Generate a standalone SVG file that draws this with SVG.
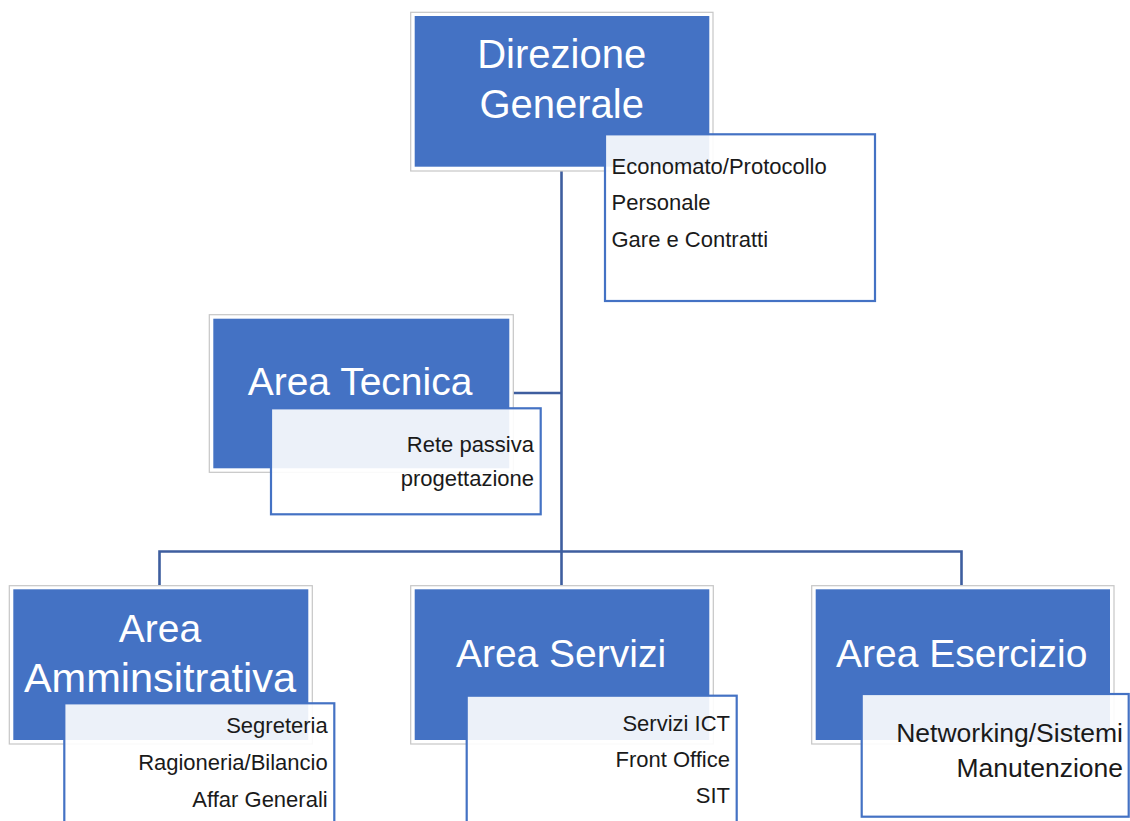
<svg xmlns="http://www.w3.org/2000/svg" width="1130" height="821" viewBox="0 0 1130 821">
<style>
.frame{fill:#ffffff;stroke:#c6c6c6;stroke-width:1.2}
.head{fill:#4472c4}
.title{font-family:"Liberation Sans",Arial,sans-serif;font-size:39px;fill:#ffffff;text-anchor:middle}
.box{fill:#ffffff;fill-opacity:0.9;stroke:#4472c4;stroke-width:2.2}
.item{font-family:"Liberation Sans",Arial,sans-serif;font-size:22px;fill:#1a1a1a}
.r{text-anchor:end}
.big{font-size:26.5px}
.conn{fill:none;stroke:#3e5e9f;stroke-width:2.6}
</style>
<rect width="1130" height="821" fill="#ffffff"/>
<g id="connectors">
<path class="conn" d="M561.5 171 V585"/>
<path class="conn" d="M513 393 H561.5"/>
<path class="conn" d="M159.5 585 V551.5 H961.5 V585"/>
</g>
<g id="direzione-generale">
<rect class="frame" x="410.7" y="12.3" width="302.3" height="158.7"/>
<rect class="head" x="414.7" y="16" width="294.6" height="150.7"/>
<text class="title" x="561.7" y="68.3" style="font-size:40px">Direzione</text>
<text class="title" x="561.7" y="118.3" style="font-size:40px">Generale</text>
<rect class="box" x="605" y="134.3" width="270" height="166.7"/>
<text class="item" x="611.5" y="173.5">Economato/Protocollo</text>
<text class="item" x="611.5" y="210">Personale</text>
<text class="item" x="611.5" y="246.5">Gare e Contratti</text>
</g>
<g id="area-tecnica">
<rect class="frame" x="209.3" y="314.7" width="304" height="157.6"/>
<rect class="head" x="213.3" y="318.7" width="296" height="149.6"/>
<text class="title" x="360" y="395">Area Tecnica</text>
<rect class="box" x="271" y="408.3" width="269.7" height="106"/>
<text class="item r" x="534" y="451.7">Rete passiva</text>
<text class="item r" x="534" y="486">progettazione</text>
</g>
<g id="area-amministrativa">
<rect class="frame" x="9.3" y="585.7" width="303" height="158.3"/>
<rect class="head" x="13.3" y="589.3" width="295" height="150.7"/>
<text class="title" x="160" y="641.7">Area</text>
<text class="title" x="160" y="691.7" style="font-size:41.5px">Amminsitrativa</text>
<rect class="box" x="64.3" y="703.3" width="270" height="130"/>
<text class="item r" x="327.7" y="733.3">Segreteria</text>
<text class="item r" x="327.7" y="770">Ragioneria/Bilancio</text>
<text class="item r" x="327.7" y="806.7">Affar Generali</text>
</g>
<g id="area-servizi">
<rect class="frame" x="410.7" y="585.7" width="302.6" height="158.3"/>
<rect class="head" x="414.7" y="589.3" width="294.6" height="150.7"/>
<text class="title" x="561" y="666.7">Area Servizi</text>
<rect class="box" x="466.7" y="695.7" width="270" height="140"/>
<text class="item r" x="730" y="731">Servizi ICT</text>
<text class="item r" x="730" y="767">Front Office</text>
<text class="item r" x="730" y="803.3">SIT</text>
</g>
<g id="area-esercizio">
<rect class="frame" x="811.7" y="585.7" width="302.3" height="158.3"/>
<rect class="head" x="815.7" y="589.3" width="294.3" height="150.7"/>
<text class="title" x="961.7" y="666.7">Area Esercizio</text>
<rect class="box" x="861.7" y="694" width="267" height="122.7"/>
<text class="item r big" x="1123" y="741.7">Networking/Sistemi</text>
<text class="item r big" x="1123" y="777">Manutenzione</text>
</g>
</svg>
